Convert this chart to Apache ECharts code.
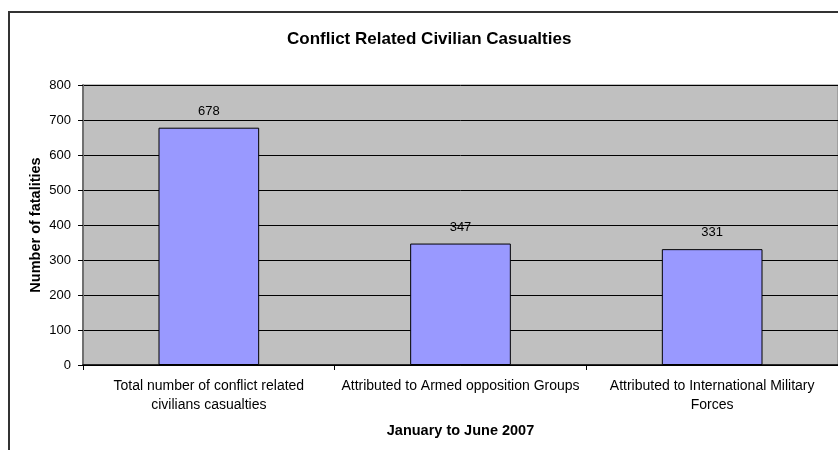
<!DOCTYPE html>
<html>
<head>
<meta charset="utf-8">
<script src="https://cdn.jsdelivr.net/npm/echarts@6/dist/echarts.min.js"></script>
<style>
  html, body { margin: 0; padding: 0; background: #fff; }
  #chart { width: 838px; height: 450px; }
</style>
</head>
<body>
<div id="chart"></div>
<script>
// Civilian casualty counts, January to June 2007
const categories = [
  'Total number of conflict related\ncivilians casualties',
  'Attributed to Armed opposition Groups',
  'Attributed to International Military\nForces'
];
const fatalities = [678, 347, 331];
const yTicks = [0, 100, 200, 300, 400, 500, 600, 700, 800];

const FONT = 'Arial, "Liberation Sans", sans-serif';

const chart = echarts.init(document.getElementById('chart'), null, { renderer: 'canvas' });

chart.setOption({
  animation: false,
  backgroundColor: '#ffffff',
  textStyle: { fontFamily: FONT },
  graphic: [
    {
      type: 'rect',
      silent: true,
      z: -1,
      shape: { x: 9, y: 12, width: 1000, height: 1000 },
      style: { fill: 'none', stroke: '#333333', lineWidth: 2 }
    }
  ],
  title: {
    text: 'Conflict Related Civilian Casualties',
    left: 287,
    top: 31,
    padding: 0,
    textStyle: { fontFamily: FONT, fontSize: 17, fontWeight: 'bold', color: '#000' }
  },
  grid: {
    left: 83,
    top: 85,
    width: 757,
    height: 280,
    show: true,
    backgroundColor: '#C0C0C0',
    borderColor: '#808080',
    borderWidth: 1,
    containLabel: false
  },
  xAxis: {
    type: 'category',
    data: categories,
    name: 'January to June 2007',
    nameLocation: 'middle',
    nameGap: 58,
    nameMoveOverlap: false,
    nameTextStyle: { fontFamily: FONT, fontSize: 14.5, fontWeight: 'bold', color: '#000' },
    axisLine: { lineStyle: { color: '#000', width: 1.5 } },
    axisTick: { show: true, length: 5, lineStyle: { color: '#000' } },
    axisLabel: {
      fontFamily: FONT, fontSize: 14, color: '#000',
      margin: 12, lineHeight: 19, interval: 0
    },
    splitLine: { show: false }
  },
  yAxis: {
    type: 'value',
    min: yTicks[0],
    max: yTicks[yTicks.length - 1],
    interval: yTicks[1] - yTicks[0],
    name: 'Number of fatalities',
    nameLocation: 'middle',
    nameGap: 40,
    nameMoveOverlap: false,
    nameTextStyle: { fontFamily: FONT, fontSize: 14.5, fontWeight: 'bold', color: '#000' },
    axisLine: { show: true, lineStyle: { color: '#707070', width: 2 } },
    axisTick: { show: true, length: 5, lineStyle: { color: '#000' } },
    axisLabel: { fontFamily: FONT, fontSize: 13, color: '#000', margin: 12 },
    splitLine: { show: true, lineStyle: { color: '#000', width: 1 } }
  },
  series: [
    {
      type: 'bar',
      data: fatalities,
      barWidth: '40%',
      itemStyle: { color: '#9999FF', borderColor: '#000', borderWidth: 1 },
      label: {
        show: true,
        position: 'top',
        distance: 10,
        fontFamily: FONT,
        fontSize: 13,
        color: '#000'
      }
    }
  ]
});
</script>
</body>
</html>
